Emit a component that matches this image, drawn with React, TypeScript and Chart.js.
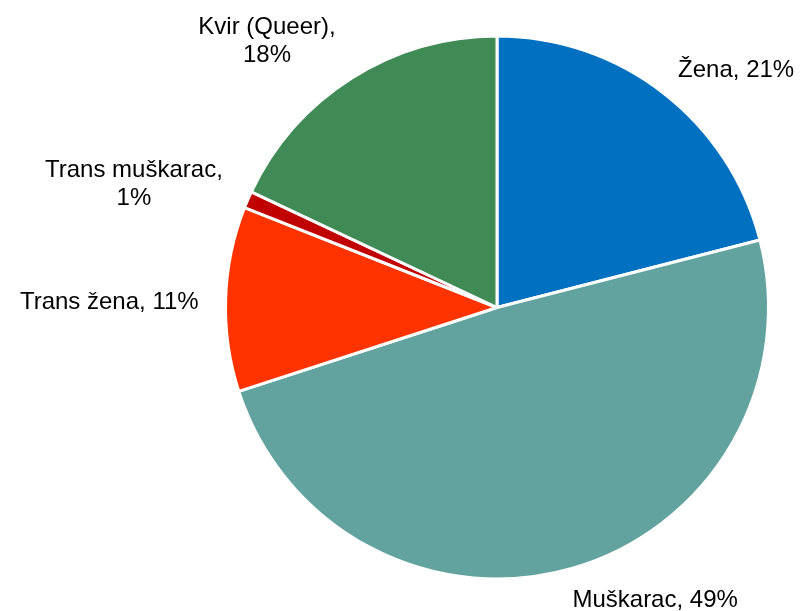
import React, { useEffect, useRef } from "react";
import { Chart, registerables } from "chart.js";

Chart.register(...registerables);

const categories = ["Žena", "Muškarac", "Trans žena", "Trans muškarac", "Kvir (Queer)"];
const values = [21, 49, 11, 1, 18];
const labelLines = [
  ["Žena, 21%"],
  ["Muškarac, 49%"],
  ["Trans žena, 11%"],
  ["Trans muškarac,", "1%"],
  ["Kvir (Queer),", "18%"],
];
const colors = ["#0070C0", "#62A39F", "#FF3300", "#C00000", "#3F8A55"];

const FONT = "24px 'Liberation Sans', Arial, sans-serif";
const LINE_H = 28;

const outsideLabels = {
  id: "outsideLabels",
  afterDraw(chart: any) {
    const ctx = chart.ctx;
    const meta = chart.getDatasetMeta(0);
    ctx.save();
    ctx.font = FONT;
    ctx.fillStyle = "#000";
    ctx.textBaseline = "middle";
    meta.data.forEach((arc: any, i: number) => {
      const { x, y, startAngle, endAngle, outerRadius } = arc.getProps(
        ["x", "y", "startAngle", "endAngle", "outerRadius"],
        true
      );
      const mid = (startAngle + endAngle) / 2;
      const dx = Math.cos(mid);
      const dy = Math.sin(mid);
      const ax = x + (outerRadius + 24) * dx;
      const ay = y + (outerRadius + 24) * dy;
      const lines = labelLines[i];
      const w = Math.max(...lines.map((l) => ctx.measureText(l).width));
      const h = lines.length * LINE_H;
      let left: number;
      if (dx > 0.2) left = ax - (dx < 0.4 ? 7 : 0);
      else if (dx < -0.2) left = ax - w - 3;
      else left = ax - w / 2;
      const shift = dy > 0.5 ? -4 : 4 - 4 * dy;
      const cy = ay + dy * (h / 2) + shift;
      const top = cy - h / 2;
      ctx.textAlign = "center";
      lines.forEach((l, k) => {
        ctx.fillText(l, left + w / 2, top + LINE_H * (k + 0.5));
      });
    });
    ctx.restore();
  },
};

export default function App() {
  const ref = useRef<HTMLCanvasElement>(null);
  useEffect(() => {
    const chart = new Chart(ref.current!, {
      type: "pie",
      data: {
        labels: categories,
        datasets: [
          {
            data: values,
            backgroundColor: colors,
            borderColor: "#ffffff",
            borderWidth: 3,
          },
        ],
      },
      options: {
        animation: false,
        responsive: false,
        layout: { padding: { top: 34, bottom: 30, left: 224, right: 31 } },
        plugins: {
          legend: { display: false },
          tooltip: { enabled: false },
        },
      },
      plugins: [outsideLabels],
    });
    return () => chart.destroy();
  }, []);
  return (
    <div style={{ position: "fixed", left: 0, top: 0, width: 801, height: 611, background: "#fff" }}>
      <canvas ref={ref} width={801} height={611} />
    </div>
  );
}
